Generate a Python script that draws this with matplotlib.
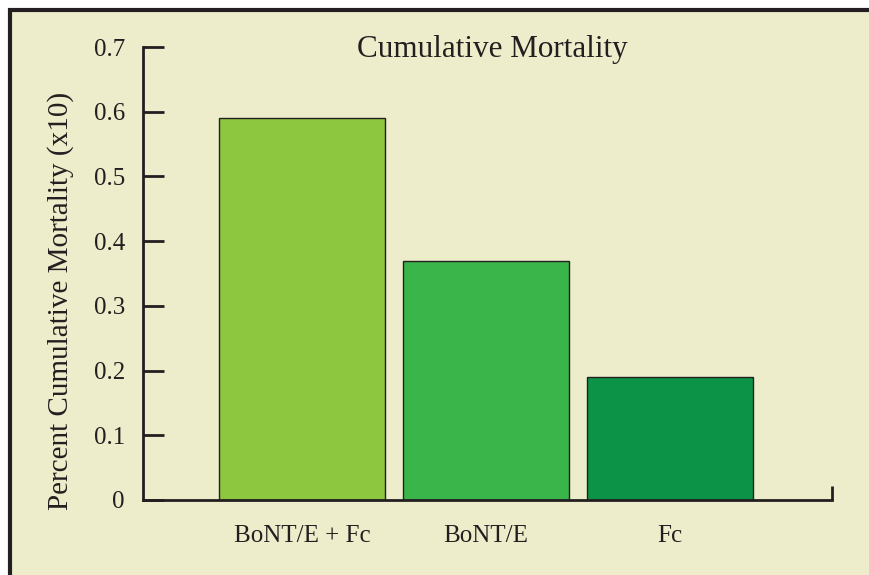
#Grafica de barras: mortalidad acumulada

import matplotlib.pyplot as plt
from matplotlib.patches import Rectangle

# datos
grupos = ["BoNT/E + Fc", "BoNT/E", "Fc"]
mortalidad = [0.59, 0.37, 0.19]
colores = ["#8DC63F", "#3AB54A", "#0D9347"]
yticks = [0, 0.1, 0.2, 0.3, 0.4, 0.5, 0.6, 0.7]
ytick_labels = ["0", "0.1", "0.2", "0.3", "0.4", "0.5", "0.6", "0.7"]

fondo = "#EEEDCB"
tinta = "#231F20"
plt.rcParams['font.family'] = ['Liberation Serif', 'DejaVu Serif']

fig = plt.figure(figsize=(8.7, 5.75), dpi=100)
fig.patch.set_facecolor("white")
# marco con borde solo arriba e izquierda (el resto queda recortado)
fig.patches.append(Rectangle((10 / 870, -0.1), 1.2, (565 / 575) + 0.1,
                             transform=fig.transFigure, facecolor=fondo,
                             edgecolor=tinta, linewidth=3, zorder=0))

ax = fig.add_axes([143 / 870, 75 / 575, 689 / 870, 453 / 575])
ax.set_facecolor("none")
ax.set_zorder(2)

x = list(range(len(grupos)))
ax.bar(x, mortalidad, width=0.9, color=colores, edgecolor=tinta, linewidth=1)

xmin, xmax = -0.864, 2.88
ax.set_xlim(xmin, xmax)
ax.set_ylim(0, 0.7)

ax.spines['top'].set_visible(False)
ax.spines['right'].set_visible(False)
for s in ['left', 'bottom']:
    ax.spines[s].set_linewidth(2)
    ax.spines[s].set_color(tinta)

ax.set_yticks(yticks)
ax.set_yticklabels(ytick_labels)
ax.tick_params(axis='y', direction='in', length=15, width=2, color=tinta,
               pad=13, labelsize=18, labelcolor=tinta)

ax.set_xticks(x)
ax.set_xticklabels(grupos)
ax.tick_params(axis='x', which='major', length=0, pad=18, labelsize=18,
               labelcolor=tinta)
# marca al final del eje x
ax.set_xticks([xmax], minor=True)
ax.tick_params(axis='x', which='minor', direction='in', length=10, width=2,
               color=tinta)

ax.set_ylabel("Percent Cumulative Mortality (x10)", fontsize=21, color=tinta)
ax.yaxis.set_label_coords(-0.10, 0.44)

ax.text(0.507, 0.995, "Cumulative Mortality", transform=ax.transAxes,
        ha='center', va='center', fontsize=22.4, color=tinta)

fig.savefig("out.png", dpi=100)
